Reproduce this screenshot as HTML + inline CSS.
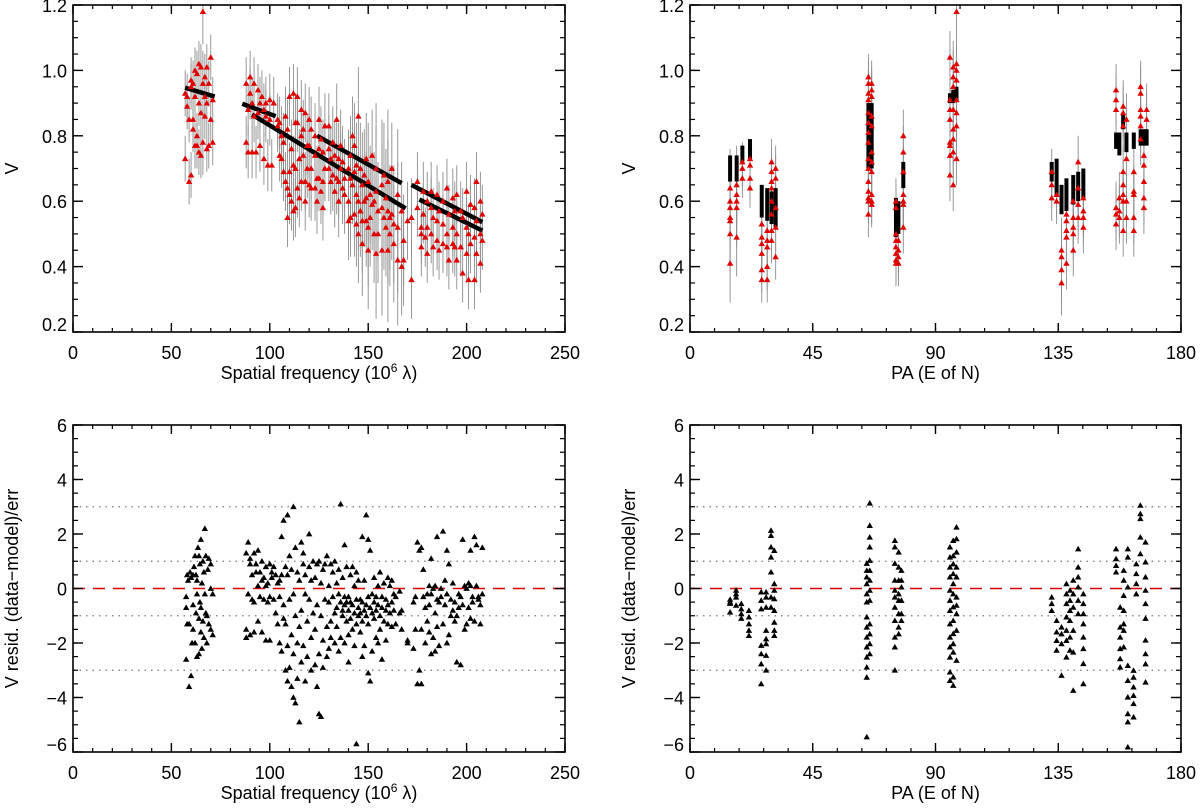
<!DOCTYPE html>
<html><head><meta charset="utf-8"><style>
body{margin:0;background:#fff}
svg{display:block;font-family:"Liberation Sans",sans-serif}
</style></head><body>
<svg id="fig" width="1200" height="811" viewBox="0 0 1200 811" xmlns="http://www.w3.org/2000/svg">
<g id="layer"></g>
</svg>
<script>
// ---------- DATA ----------
// top-left: [freq, err, V values...]
const tlRows = [
[57,0.07,0.73,0.93],[58,0.07,0.92,0.89],[59,0.07,0.85,0.66],[60,0.07,0.68,0.97,0.95],[61,0.07,0.96,0.85,0.82],
[62,0.07,0.77,1.0,0.92],[63,0.07,0.99,0.77,0.8],[64,0.07,0.75,1.02,0.9],[65,0.07,0.74,1.01,0.87],[66,0.1,1.18,0.78,0.96],
[67,0.07,0.98,0.86,0.92],[68,0.07,0.76,1.01,0.9],[69,0.07,0.77,0.96],[70,0.07,1.04,0.85],[71,0.07,0.78,0.91],
[88,0.08,0.78,0.96],[89,0.08,0.88,0.75],[90,0.08,0.98,0.93],[91,0.08,0.75,0.9],[92,0.08,0.96,0.86],[93,0.08,0.75],
[94,0.08,0.94,0.87],[95,0.08,0.77,0.9],[96,0.08,0.92],[97,0.08,0.73,0.88],[98,0.08,0.9,0.86],[99,0.08,0.71],
[100,0.08,0.91,0.85],[101,0.08,0.71],[102,0.08,0.9],[104,0.08,0.85,0.83],[105,0.08,0.74,0.84],[106,0.09,0.73,0.8],
[107,0.09,0.78,0.69],[108,0.09,0.86,0.66],[109,0.09,0.64,0.55,0.82],[110,0.09,0.92,0.62,0.69],[111,0.09,0.6,0.76],
[112,0.09,0.93,0.57,0.71],[113,0.09,0.58,0.84,0.7],[114,0.09,0.84,0.64,0.92],[115,0.09,0.73,0.61],[116,0.09,0.88,0.8,0.66],
[117,0.09,0.82,0.74],[118,0.09,0.87,0.66,0.6],[119,0.09,0.77,0.7],[120,0.1,0.85,0.65,0.77],[121,0.1,0.82,0.64,0.7],
[123,0.1,0.8,0.74,0.64],[124,0.1,0.67,0.6],[125,0.1,0.76,0.85,0.67],[126,0.1,0.79,0.63],[127,0.1,0.75,0.66,0.58],
[128,0.1,0.83,0.7],[130,0.1,0.83,0.7,0.76],[131,0.1,0.66,0.73],[132,0.11,0.78,0.68],[133,0.11,0.74,0.63],[134,0.11,0.85,0.67],
[135,0.11,0.73,0.66,0.6],[136,0.11,0.77,0.7],[137,0.11,0.72,0.64],[138,0.12,0.67,0.62],[140,0.12,0.7,0.6,0.54],
[141,0.12,0.74,0.67,0.55],[142,0.12,0.8,0.65],[143,0.13,0.77,0.69,0.56],[144,0.13,0.71,0.62,0.53],[145,0.15,0.86,0.6,0.5],
[146,0.14,0.7,0.57],[147,0.16,0.65,0.54,0.47],[148,0.14,0.68,0.6],[149,0.14,0.73,0.61,0.54],[150,0.18,0.66,0.52,0.45],
[151,0.15,0.62,0.55],[152,0.14,0.74,0.59],[153,0.15,0.6,0.5],[154,0.2,0.7,0.63,0.44],[155,0.15,0.57,0.5],
[157,0.2,0.65,0.58,0.45],[158,0.16,0.68,0.55],[159,0.15,0.61,0.52],[160,0.22,0.66,0.57,0.45],[161,0.16,0.55,0.5],
[162,0.14,0.7,0.56],[163,0.18,0.53,0.47],[165,0.2,0.62,0.52,0.42],[167,0.15,0.57,0.4],[168,0.14,0.48,0.42],
[170,0.12,0.54],[172,0.12,0.36,0.55],[175,0.09,0.66,0.58],[177,0.09,0.52,0.5,0.46],[178,0.09,0.63,0.56],[179,0.09,0.49],
[180,0.09,0.6,0.52,0.44],[182,0.09,0.63,0.58,0.5],[183,0.09,0.46,0.55],[185,0.09,0.62,0.54,0.48],[186,0.09,0.45,0.57],
[188,0.09,0.6,0.53,0.47],[190,0.09,0.64,0.5,0.46],[191,0.09,0.56,0.42],[193,0.09,0.61,0.52,0.47],[194,0.09,0.46,0.57],
[195,0.09,0.62,0.5,0.42],[197,0.09,0.57,0.46],[198,0.09,0.55,0.38],[200,0.09,0.63,0.52,0.44],[201,0.09,0.5,0.36],
[202,0.09,0.59,0.47],[204,0.09,0.36,0.58,0.49],[205,0.09,0.66,0.54,0.44],[207,0.09,0.6,0.5,0.41],[208,0.09,0.56,0.48]
];
// model segments: [f0, v0, f1, v1]
const tlModel = [
[57,0.947,72,0.92],[86,0.898,103,0.86],[91,0.865,169,0.578],[124,0.80,167,0.655],[172,0.65,208,0.536],[176,0.605,208,0.51]
];
// top-right: [PA, modelLo, modelHi, err, V values...]
const trRows = [
[14.7,0.66,0.74,0.12,0.64,0.60,0.58,0.55,0.54,0.50,0.41],
[17.1,0.66,0.74,0.12,0.65,0.62,0.60,0.58,0.49],
[19.2,0.72,0.77,0.06,0.72,0.70,0.67],
[22.0,0.73,0.79,0.06,0.73,0.71,0.67,0.64],
[26.3,0.55,0.65,0.07,0.53,0.49,0.47,0.44,0.39,0.36],
[28.3,0.54,0.64,0.07,0.51,0.48,0.46,0.40,0.36],
[29.9,0.53,0.63,0.07,0.72,0.69,0.66,0.64,0.60,0.56,0.51,0.48],
[31.4,0.52,0.64,0.07,0.70,0.67,0.58,0.52,0.43],
[65.4,0.70,0.90,0.07,0.98,0.96,0.93,0.91,0.87,0.84,0.81,0.78,0.73,0.70,0.66,0.63,0.61,0.60,0.56],
[66.6,0.70,0.90,0.07,0.96,0.94,0.92,0.86,0.83,0.75,0.72,0.69,0.62,0.60,0.59],
[75.5,0.49,0.61,0.07,0.60,0.58,0.50,0.48,0.46,0.44,0.42,0.41],
[76.4,0.50,0.60,0.07,0.48,0.45,0.43,0.41],
[78.2,0.64,0.72,0.08,0.80,0.75,0.69,0.62,0.60,0.59,0.52],
[95.3,0.90,0.93,0.08,1.04,0.91,0.88,0.85,0.78,0.77,0.74,0.68],
[96.5,0.90,0.94,0.08,1.01,0.98,0.95,0.88,0.82,0.79,0.75,0.65],
[97.7,0.91,0.95,0.08,1.18,1.02,1.00,0.97,0.91,0.87,0.83,0.73],
[132.6,0.66,0.72,0.07,0.69,0.65,0.61],
[134.4,0.62,0.73,0.07,0.62,0.60],
[136.2,0.56,0.65,0.1,0.45,0.43,0.39,0.35],
[138.0,0.57,0.67,0.08,0.56,0.54,0.51,0.49,0.41],
[140.5,0.59,0.68,0.08,0.60,0.55,0.52,0.50,0.45],
[142.3,0.60,0.69,0.08,0.72,0.64,0.59,0.55],
[144.2,0.61,0.70,0.08,0.61,0.57,0.55,0.52],
[156.2,0.76,0.81,0.08,0.94,0.91,0.88,0.58,0.56,0.53],
[157.4,0.74,0.81,0.08,0.61,0.57,0.55],
[158.8,0.82,0.87,0.08,0.89,0.87,0.83,0.69,0.65,0.62,0.60,0.51],
[160.0,0.75,0.81,0.08,0.85,0.73,0.60,0.55],
[162.7,0.76,0.81,0.08,0.69,0.63,0.62,0.55,0.51],
[165.2,0.77,0.82,0.08,0.95,0.93,0.88,0.86,0.83,0.79],
[166.4,0.77,0.82,0.08,0.74,0.71,0.66,0.61,0.58],
[167.4,0.77,0.82,0.08,0.88,0.85]
];
// bottom-left: [freq, residuals...]
const blRows = [
[57.5,-0.3,-0.7,-2.6],[58,0.5,-1.3],[58.5,0.3],[59,-3.6,-1.3],[59.5,0.6],[60,-3.2,0.4],[60.5,-2.0],[61,0.5,-0.6,-1.5],
[61.5,0.8],[62,-2.0,1.2],[62.5,-0.9,0.5],[63,-2.5,0.3,-0.2],[63.5,1.5],[64,-2.4,-1.1,1.2],[64.5,-0.5,0.9],
[65,1.8,-1.6,-0.7],[65.5,-2.2,0.2],[66,1.0,-1.2],[66.5,-1.8,0.6],[67,2.2,-0.2],[67.5,-0.9,1.2],[68,-2.0,-1.0],
[68.5,0.7],[69,1.1,-1.3],[70,0.0,-1.5,0.9],[71,-1.7,-0.2],
[88,1.3,-1.5,-1.8],[89,1.7,-0.2],[90,0.9,-1.7,1.1],[91,0.5,-0.4],[92,1.3,-0.5,-1.6],[93,0.9,0.6],[94,-1.2,0.1,1.4],
[95,0.6,-0.3],[96,1.0,0.3,-1.6],[97,0.4,-0.4],[98,0.8,0.1,-1.9],[99,0.2,-0.5],[100,0.9,-0.3,-1.9],[101,0.6,0.4],
[102,0.8,-0.4],[103,0.5,-0.9],[104,0.2,-1.3],[105,0.3,-0.3,-2.0],[106,1.9,0.5,-2.3],[107,-0.6,-1.1,2.5],
[108,0.8,-3.0,-1.3],[109,2.7,-3.4,0.5,-2.1],[110,-2.9,1.2,-0.4],[111,-3.6,-1.7,0.7],[112,3.0,-4.0,-0.2,-2.4],
[113,1.5,-4.2,-1.0],[114,-2.0,0.6,-3.3],[115,0.3,-4.9,-1.4],[116,1.7,-0.8,-2.7],[117,0.9,-2.1,1.3],[118,-0.2,-3.4,0.5],
[119,-1.2,-2.5],[120,0.8,-0.4,2.0],[121,-1.8,0.3,-3.0],[122,1.0,-0.9],[123,0.4,-2.8,-1.5],[124,-0.6,0.9,-3.6],
[125,1.0,-2.4,-4.6],[126,-1.0,0.2,-4.7],[127,0.7,-1.9,-2.9],[128,-0.4,0.9],[129,1.2,-1.4,-2.5],[130,0.1,-0.5,-2.2],
[131,-1.2,0.9,-1.8],[132,0.6,-0.3],[133,-0.9,-2.0,1.0],[134,0.2,-0.7,-1.4],[135,-0.2,0.7,-2.3],[136,3.1,-0.5,-1.8],
[137,0.4,-1.0,-0.8],[138,1.6,-0.6,-2.0,-0.3],[139,0.8,-0.5,-1.2],[140,-0.3,-0.8,-1.7,-2.7],[141,0.5,-1.1,-0.5],
[142,-0.6,-1.5,0.8],[143,0.1,-0.9,-2.1],[144,0.6,-0.4,-1.3,-5.7],[145,-0.7,-1.0,0.3],[146,-0.4,-1.6,-0.9],
[147,1.9,-0.5,-1.2,-2.5],[148,0.3,-0.8,-2.1],[149,2.7,-0.6,-1.0],[150,1.8,-0.3,-1.3,-3.1],[151,1.4,-0.7,-3.4],
[152,-0.2,-0.9,-2.3],[153,0.4,-1.1,-0.5],[154,-0.3,-0.8,-1.8],[155,0.1,-0.6,-2.0],[156,0.6,-1.0,-1.5],
[157,-0.3,-0.7,-2.6],[158,0.2,-1.2],[159,-0.4,-0.8,-1.9],[160,0.4,-0.6,-1.3],[161,0.1,-0.9],[162,-0.5,-1.4,0.3],
[163,-0.2,-0.8],[164,-0.3,-1.3],[166,-0.1,-0.9],[167,-0.8,-1.5],[170,-1.9,-2.0],[173,-0.5,-2.2],[174,-0.3,-1.5],
[175,1.7,-3.5],[176,1.4,-3.0],[177,1.5,-1.5,-3.5],[178,0.7,-0.3],[179,-0.7,-2.0],[180,-1.2,-0.2],[181,-1.6,-0.6,0.1],
[182,1.1,-2.4,-0.2],[183,0.0,-1.8],[184,0.1,-0.9,-2.3],[185,1.9,-0.4,-1.4],[186,-0.5,-2.1],[187,0.0,-0.3],
[188,2.1,-1.3],[189,-0.6,0.3],[190,1.4,-0.2,-2.0],[191,0.9,-1.7],[192,-0.4,-1.0],[193,0.2,-0.8],[194,-0.5,-1.2],
[195,-1.0,-2.7],[196,-0.7,-0.2],[197,-0.3,-2.8],[198,1.8,-0.6],[199,0.1,-1.5],[200,0.0,-1.3],[201,0.2,-0.7],
[202,0.1,-1.1,1.4],[203,-0.3,-0.5],[204,1.9,-1.2],[205,1.6,0.1],[206,-0.3,-0.4],[207,-0.6,-1.3],[208,1.5,-0.2]
];
// bottom-right: [PA, residuals...]
const brRows = [
[14.7,-0.4,-0.5,-0.55,-0.87],[16.9,-0.07,-0.2,-0.32,-0.62],[18.8,-0.56,-0.75,-0.93,-1.1],
[21.6,-0.81,-1.05,-1.3,-1.54,-1.73],[26.1,-0.13,-0.44,-0.75,-2.09,-2.4,-2.77,-3.5],
[27.9,-0.13,-0.32,-0.69,-1.54,-1.85,-2.03,-2.46,-3.0],[29.7,2.13,1.94,1.52,1.15,0.6,-0.32,-0.69],
[30.9,1.39,0.17,-0.07,-0.38,-0.81,-1.24,-1.54,-1.73],
[64.8,0.92,0.66,0.42,0.17,-0.2,-0.5,-1.05,-1.42,-1.79,-2.15,-2.52,-2.89,-3.26,-5.45],
[65.9,3.13,2.31,1.88,1.52,1.03,0.66,0.3,-0.07,-0.44,-1.3,-1.67,-2.03,-2.4],
[75.1,1.76,1.52,0.92,0.3,-0.07,-0.32,-0.69,-1.18,-1.79,-2.15,-3.0],
[76.5,1.33,0.78,0.3,-0.2,-0.44,-0.93,-1.42,-1.67],[77.5,0.66,0.3,0.05,-0.44,-0.93,-1.18],
[95.3,1.52,1.15,0.78,0.42,-0.07,-0.44,-0.81,-1.3,-1.79,-2.15,-2.52,-3.07,-3.38],
[96.5,1.76,1.2,0.9,0.54,0.17,-0.2,-0.68,-1.18,-1.66,-2.03,-2.34,-3.25,-3.56],
[97.7,2.25,1.82,1.33,0.78,0.42,-0.32,-0.62,-0.93,-1.54,-2.64],
[132.6,-0.32,-0.56,-0.81],[134.4,-1.18,-1.6,-1.91,-2.27],[136.2,-1.42,-1.67,-2.03,-3.19],
[138,0.17,-0.2,-0.56,-1.05,-1.54,-1.91,-2.52],[139.3,-0.07,-0.44,-0.81,-1.18,-1.79,-2.27],
[140.5,0.3,-0.2,-0.69,-1.54,-2.34,-3.74],[142.3,1.45,0.78,0.42,0.05,-0.44,-0.93],
[144.2,-0.2,-0.56,-0.93,-1.3,-1.79,-2.21,-2.76,-3.5],
[156.2,1.45,1.09,0.84,0.6],[157.7,-0.69,-1.42,-1.79,-2.21,-2.58,-2.89],[159,0.66,0.3,-0.26,-0.81,-1.3,-1.54,-2.15],
[160.5,1.45,1.15,0.05,-2.83,-3.38,-3.99,-4.6,-4.9,-5.82],[162.6,-3.01,-3.26,-3.62,-3.93,-4.23,-4.72],
[163.6,0.9,0.54,0.17,-0.2],[165.1,3.05,2.74,2.56,1.88,1.27],
[167,1.7,0.97,0.42,-0.07,-0.56,-1.1,-1.9,-2.4,-2.77,-3.44]
];
const tlXTicks = [0,50,100,150,200,250];
const trXTicks = [0,45,90,135,180];
const vTicks = [0.2,0.4,0.6,0.8,1.0,1.2];
const rTicks = [-6,-4,-2,0,2,4,6];
const rGuides = [3,1,-1,-3];

// ---------- HELPERS ----------
const NS='http://www.w3.org/2000/svg';
const L=document.getElementById('layer');
function mk(tag,attrs,parent){const e=document.createElementNS(NS,tag);for(const k in attrs)e.setAttribute(k,attrs[k]);(parent||L).appendChild(e);return e;}
const P={tl:{x0:73,x1:565,y0:5,y1:332},tr:{x0:690,x1:1181,y0:5,y1:332},bl:{x0:73,x1:565,y0:425,y1:752},br:{x0:690,x1:1181,y0:425,y1:752}};
function sx(p,lo,hi){return v=>p.x0+(v-lo)/(hi-lo)*(p.x1-p.x0);}
function sy(p,lo,hi){return v=>p.y1-(v-lo)/(hi-lo)*(p.y1-p.y0);}
const xF=sx(P.tl,0,250), xPA=sx(P.tr,0,180), xFb=sx(P.bl,0,250), xPAb=sx(P.br,0,180);
const yV=sy(P.tl,0.2,1.2), yR=sy(P.bl,-6,6);
function tri(g,x,y,fill){
  const t=mk('polygon',{points:`${x},${y-3.2} ${x-3.2},${y+2.4} ${x+3.2},${y+2.4}`,fill:fill},g);
  
  
}
function frame(p,name,xt,xs,yt,ys,xMinor,yMinor,xlo,xhi,ylo,yhi,xlab,ylab,yfmt){
  const g=mk('g',{});
  
  
  for(let v=xlo;v<=xhi+1e-9;v+=xMinor){const x=xs(v);mk('line',{x1:x,x2:x,y1:p.y1,y2:p.y1-4,stroke:'#000','stroke-width':1.2},g);mk('line',{x1:x,x2:x,y1:p.y0,y2:p.y0+4,stroke:'#000','stroke-width':1.2},g);}
  for(let v=ylo;v<=yhi+1e-9;v+=yMinor){const y=ys(v);mk('line',{x1:p.x0,x2:p.x0+5,y1:y,y2:y,stroke:'#000','stroke-width':1.2},g);mk('line',{x1:p.x1,x2:p.x1-5,y1:y,y2:y,stroke:'#000','stroke-width':1.2},g);}
  xt.forEach(v=>{const x=xs(v);mk('line',{x1:x,x2:x,y1:p.y1,y2:p.y1-9,stroke:'#000','stroke-width':1.4},g);mk('line',{x1:x,x2:x,y1:p.y0,y2:p.y0+9,stroke:'#000','stroke-width':1.4},g);
    const t=mk('text',{x:x,y:p.y1+27,'font-size':18,'text-anchor':'middle'},g);t.textContent=String(v);
    
    });
  yt.forEach(v=>{const y=ys(v);mk('line',{x1:p.x0,x2:p.x0+10,y1:y,y2:y,stroke:'#000','stroke-width':1.4},g);mk('line',{x1:p.x1,x2:p.x1-10,y1:y,y2:y,stroke:'#000','stroke-width':1.4},g);
    const t=mk('text',{x:p.x0-6,y:Math.min(y+7,p.y1-1),'font-size':18,'text-anchor':'end'},g);t.textContent=yfmt(v);
    
    });
  mk('rect',{x:p.x0,y:p.y0,width:p.x1-p.x0,height:p.y1-p.y0,fill:'none',stroke:'#000','stroke-width':1.6},g);
  const xl=mk('text',{x:(p.x0+p.x1)/2,y:p.y1+47,'font-size':18,'text-anchor':'middle'},g);xl.innerHTML=xlab;
  
  
  const cy=(p.y0+p.y1)/2, cx=p.x0-55;
  const yl=mk('text',{x:cx,y:cy,'font-size':18,'text-anchor':'middle',transform:`rotate(-90 ${cx} ${cy})`},g);yl.textContent=ylab;
  
  
}
const fv=v=>v.toFixed(1), fr=v=>String(v).replace('-','\u2212');
const fxlab='Spatial frequency (10<tspan dy="-7" font-size="12">6</tspan><tspan dy="7"> λ)</tspan>';

// ---------- TOP LEFT ----------
let g=mk('g',{});


tlRows.forEach(r=>{const e=r[1];for(let i=2;i<r.length;i++){const x=xF(r[0]);mk('line',{x1:x,x2:x,y1:Math.max(yV(r[i]+e),5),y2:Math.min(yV(r[i]-e),332),stroke:'#8c8c8c','stroke-width':0.9},g);}});
tlModel.forEach(s=>{const l=mk('line',{x1:xF(s[0]),y1:yV(s[1]),x2:xF(s[2]),y2:yV(s[3]),stroke:'#000','stroke-width':4.5},g);
  
  });
tlRows.forEach(r=>{for(let i=2;i<r.length;i++)tri(g,xF(r[0]),yV(r[i]),'#e00000');});
frame(P.tl,'top-left',tlXTicks,xF,vTicks,yV,10,0.05,0,250,0.2,1.2,fxlab,'V',fv);

// ---------- TOP RIGHT ----------
g=mk('g',{});


trRows.forEach(r=>{const x=xPA(r[0]),e=r[3];for(let i=4;i<r.length;i++)mk('line',{x1:x,x2:x,y1:Math.max(yV(r[i]+e),5),y2:Math.min(yV(r[i]-e),332),stroke:'#8c8c8c','stroke-width':0.9},g);
  const m=mk('rect',{x:x-2,y:yV(r[2]),width:4,height:yV(r[1])-yV(r[2]),fill:'#000'},g);
  
  });
trRows.forEach(r=>{for(let i=4;i<r.length;i++)tri(g,xPA(r[0]),yV(r[i]),'#e00000');});
frame(P.tr,'top-right',trXTicks,xPA,vTicks,yV,9,0.05,0,180,0.2,1.2,'PA (E of N)','V',fv);

// ---------- BOTTOM LEFT / RIGHT ----------
function resid(p,rows,xs,name,xt,xMinor,xhi,xlab){
  const g=mk('g',{});
  
  
  rGuides.forEach(v=>{const l=mk('line',{x1:p.x0,x2:p.x1,y1:yR(v),y2:yR(v),stroke:'#777','stroke-width':1.3,'stroke-dasharray':'1.5 5'},g);
    
    });
  const z=mk('line',{x1:p.x0,x2:p.x1,y1:yR(0),y2:yR(0),stroke:'#e00000','stroke-width':1.6,'stroke-dasharray':'12 8'},g);
  
  
  rows.forEach(r=>{for(let i=1;i<r.length;i++)tri(g,xs(r[0]),yR(r[i]),'#000');});
  frame(p,name,xt,xs,rTicks,yR,xMinor,0.5,0,xhi,-6,6,xlab,'V resid. (data\u2212model)/err',fr);
}
resid(P.bl,blRows,xFb,'residual-vs-frequency',tlXTicks,10,250,fxlab);
resid(P.br,brRows,xPAb,'residual-vs-pa',trXTicks,9,180,'PA (E of N)');
</script>
</body></html>
